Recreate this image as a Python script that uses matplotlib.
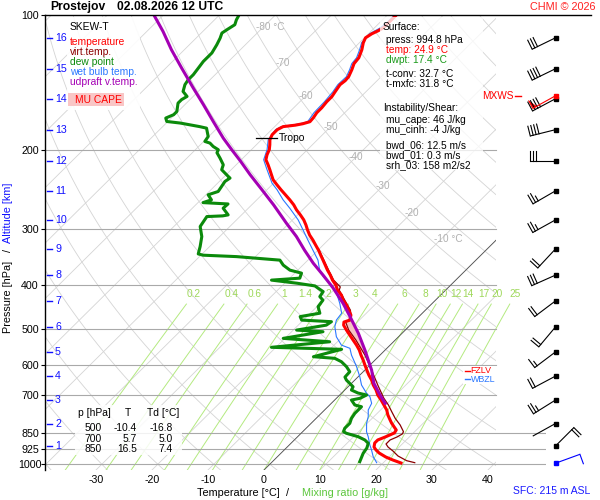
import numpy as np
import matplotlib
matplotlib.use('Agg')
import matplotlib.pyplot as plt
from matplotlib.patches import Rectangle, Polygon

plt.rcParams['font.family'] = ['Liberation Sans', 'DejaVu Sans']

# ---------------- data ----------------
temp_p = [993.6, 978.5, 963.6, 944.1, 929.7, 915.5, 896.8, 883.1, 869.6, 852.0, 839.0, 826.3,
          809.5, 797.1, 776.9, 757.4, 738.2, 719.6, 701.4, 683.7, 666.4, 649.6, 633.1, 617.2,
          601.5, 586.4, 571.5, 557.1, 543.0, 529.3, 515.9, 502.8, 490.2, 482.5, 477.7, 465.7,
          453.9, 442.4, 431.3, 420.3, 409.7, 399.3, 389.2, 379.3, 369.8, 360.4, 351.3, 342.5,
          333.8, 325.4, 317.1, 309.0, 301.0, 293.3, 285.8, 278.6, 271.5, 264.6, 257.9, 251.3,
          244.9, 238.8, 232.7, 226.8, 221.0, 215.5, 210.0, 204.7, 199.5, 194.5, 189.5, 184.7,
          180.0, 177.2, 175.9, 174.6, 172.8, 169.3, 165.0, 160.9, 156.0, 152.0, 148.2, 142.9,
          140.0, 137.2, 132.3, 128.3, 124.5, 119.5, 115.3, 112.4, 110.1, 108.4, 106.8, 104.1, 100.0]
temp_t = [23.2, 21.2, 19.4, 17.5, 16.4, 15.5, 14.9, 14.9, 15.7, 16.6, 16.4, 15.5,
          14.3, 13.5, 12.2, 11.1, 9.7, 8.3, 6.8, 5.6, 4.2, 3.0, 1.6, 0.35,
          -0.9, -2.1, -3.4, -4.6, -6.0, -7.5, -9.0, -10.5, -11.9, -12.4, -11.7, -12.4,
          -13.7, -15.0, -16.5, -17.7, -19.3, -20.5, -22.0, -23.3, -24.7, -26.0, -27.3, -28.6,
          -29.9, -31.3, -32.7, -34.2, -35.5, -36.7, -38.0, -39.5, -41.1, -42.5, -44.1, -45.8,
          -47.5, -49.1, -50.7, -51.9, -53.1, -54.3, -55.6, -56.3, -56.8, -57.6, -58.5, -59.0,
          -59.0, -58.5, -56.6, -55.5, -54.6, -54.7, -55.0, -55.0, -55.2, -55.2, -55.5, -55.9,
          -55.7, -55.8, -56.5, -57.2, -57.4, -58.3, -59.3, -59.8, -59.4, -58.8, -58.4, -58.4, -58.4]

virt_p = [992.1, 982.0, 958.6, 934.4, 915.5, 901.4, 883.1, 869.6, 856.3, 846.4, 817.8, 790.2,
          764.0, 738.2, 712.2, 666.4, 617.2, 571.5, 529.3, 502.8, 482.5, 477.7, 453.9, 431.3,
          409.7, 402.9, 389.2, 369.8, 333.8]
virt_t = [25.6, 23.8, 21.4, 19.6, 18.0, 17.1, 17.1, 17.8, 18.2, 18.0, 16.2, 14.1,
          12.3, 10.5, 8.4, 5.0, 1.2, -2.7, -7.0, -10.1, -12.1, -11.4, -13.4, -16.2,
          -19.0, -19.4, -21.8, -24.5, -29.8]

dew_p = [987.0, 945.5, 920.1, 898.2, 883.1, 868.3, 853.4, 846.4, 831.8, 810.7, 790.2, 770.2,
         757.4, 744.7, 738.2, 719.6, 713.3, 701.4, 694.2, 683.7, 672.3, 649.6, 639.7, 622.5,
         606.5, 591.3, 581.1, 576.3, 554.9, 549.2, 533.8, 524.6, 507.0, 502.8, 490.2, 481.6,
         477.7, 469.2, 461.1, 445.8, 431.3, 423.5, 412.8, 405.7, 400.9, 395.4, 389.2, 385.3,
         375.5, 369.8, 360.4, 351.3, 345.0, 342.5, 340.3, 327.6, 311.3, 295.7, 281.0, 280.0,
         278.6, 269.2, 263.4, 261.6, 257.9, 251.3, 247.1, 240.8, 234.7, 230.7, 228.8, 221.0,
         215.5, 208.2, 202.6, 199.5, 196.2, 192.8, 191.2, 186.4, 178.6, 177.2, 174.0, 172.6,
         169.6, 166.7, 164.0, 157.1, 154.3, 151.8, 148.0, 142.9, 139.3, 135.8, 131.2, 126.9,
         124.7, 121.5, 116.5, 112.6, 109.7, 107.8, 105.1, 102.5, 100.0]
dew_t = [15.6, 14.7, 14.4, 13.8, 12.6, 10.8, 8.1, 7.3, 6.9, 6.9, 6.3, 6.0,
         6.0, 6.0, 4.5, 3.0, 4.2, 4.8, 2.9, 1.2, 0.9, -1.5, -2.3, -2.4,
         -3.9, -5.7, -7.5, -11.6, -7.9, -20.8, -11.4, -20.3, -14.4, -19.4, -15.0, -14.7,
         -20.3, -21.2, -18.3, -19.8, -20.1, -21.3, -21.6, -23.1, -24.1, -27.8, -32.9, -28.2,
         -28.8, -31.4, -33.5, -35.0, -43.4, -49.6, -50.7, -51.7, -53.2, -55.3, -55.9, -53.2,
         -52.4, -54.5, -54.4, -59.1, -58.1, -59.6, -58.4, -58.7, -59.0, -58.7, -59.3, -61.7,
         -62.3, -64.1, -65.6, -65.9, -67.4, -68.6, -69.8, -70.1, -71.9, -73.4, -77.5, -80.2,
         -81.0, -80.2, -80.2, -81.5, -81.5, -81.1, -82.7, -83.6, -83.9, -83.9, -84.2, -84.5,
         -84.5, -84.5, -85.1, -85.7, -86.3, -86.0, -85.5, -86.1, -86.5]

wetb_p = [992.1, 962.1, 929.7, 906.2, 868.3, 846.4, 810.7, 783.7, 757.4, 731.8, 707.5, 695.3,
          666.4, 638.7, 606.5, 571.5, 552.0, 543.0, 520.3, 494.0, 477.7, 461.1, 438.6, 416.3,
          396.8, 382.1, 369.8, 351.3, 333.8, 317.1, 301.0, 285.8, 269.2, 257.9, 244.9, 236.7,
          221.0, 210.0, 199.5, 189.5, 180.0, 177.2, 174.6, 172.8, 165.0, 156.0, 148.2, 142.9,
          137.2, 132.3, 128.3, 124.5, 119.5, 115.3, 110.1, 107.0, 104.1, 100.0]
wetb_t = [18.8, 17.1, 15.6, 14.4, 12.6, 11.4, 9.9, 9.0, 7.8, 7.2, 5.7, 4.5,
          2.1, 0.3, -2.1, -5.1, -6.6, -8.7, -11.1, -13.2, -14.1, -14.4, -16.5, -18.9,
          -21.8, -24.3, -26.1, -28.2, -30.9, -33.6, -36.3, -39.0, -42.6, -45.3, -48.2, -50.3,
          -53.6, -56.0, -57.2, -58.8, -59.3, -58.8, -56.0, -55.0, -55.5, -55.6, -55.9, -56.3,
          -56.2, -56.9, -57.6, -57.8, -58.7, -59.6, -59.8, -59.0, -58.7, -58.7]

parc_p = [731.8, 701.4, 660.6, 617.2, 557.1, 511.1, 469.2, 438.6, 405.0, 379.3, 356.8, 333.8,
          311.3, 290.7, 264.6, 244.9, 226.8, 211.1, 199.5, 188.0, 172.6, 158.3, 145.4, 131.2,
          119.5, 108.8, 100.0]
parc_t = [9.6, 7.2, 4.0, 1.2, -3.6, -7.8, -12.3, -15.9, -20.5, -24.6, -28.5, -32.4,
          -36.3, -40.5, -46.1, -50.9, -55.7, -60.0, -63.5, -67.1, -71.9, -76.7, -81.5, -87.2,
          -92.3, -97.1, -101.7]

alt_km = [1, 2, 3, 4, 5, 6, 7, 8, 9, 10, 11, 12, 13, 14, 15, 16]
alt_p = [910.7, 811.6, 719.6, 636.5, 562.3, 494.7, 432.9, 379.3, 331.7, 285.8, 246.3, 211.1,
         180.0, 153.6, 131.7, 112.4]
wind_dir = [45, 241, 238, 242, 233, 220, 233, 246, 223, 241, 240, 270, 256, 242, 244, 244]
wind_spd = [20, 3, 25, 20, 15, 20, 20, 30, 20, 25, 25, 30, 40, 40, 40, 30]
sfc_p = 994.8
sfc_dir = 70
sfc_spd = 10
mxws_p = 151.3
mxws_dir = 241
mxws_spd = 50
tropo_p = 187.7
fzlv_p = 620.3
wbzl_p = 646.2

p_ticks = [100, 200, 300, 400, 500, 600, 700, 850, 925, 1000]
t_ticks = [-30, -20, -10, 0, 10, 20, 30, 40]
mr_values = [0.2, 0.4, 0.6, 1, 1.4, 2, 3, 4, 6, 8, 10, 12, 14, 17, 20, 25]
mr_labels = ['0.2', '0.4', '0.6', '1', '1.4', '2', '3', '4', '6', '8', '10', '12', '14', '17', '20', '25']
iso_lab_t = [-80, -70, -60, -50, -40, -30, -20, -10]
iso_lab_p = [106.2, 127.8, 151.3, 177.2, 206.9, 240.0, 275.7, 315.0]

tab_p = [500, 700, 850]
tab_t = [-10.4, 5.7, 16.5]
tab_td = [-16.8, 5.0, 7.4]

sfc_lines = [('Surface:', 'black', 0), ('press: 994.8 hPa', 'black', 1), ('temp: 24.9 °C', '#ff0000', 1),
             ('dwpt: 17.4 °C', '#1a9a1a', 1), ('t-conv: 32.7 °C', 'black', 1), ('t-mxfc: 31.8 °C', 'black', 1),
             ('Instability/Shear:', 'black', 0), ('mu_cape: 46 J/kg', 'black', 1), ('mu_cinh: -4 J/kg', 'black', 1),
             ('bwd_06: 12.5 m/s', 'black', 1), ('bwd_01: 0.3 m/s', 'black', 1), ('srh_03: 158 m2/s2', 'black', 1)]
sfc_line_y = [27, 40, 50, 60, 74, 84, 108, 120, 130, 145, 155, 165]

# ---------------- geometry ----------------
P_BOT = 1030.0
SKEW = 81.0
PX_PER_DEG = 5.6
X0PX = 264.0
MR_SHIFT = -1.0   # horizontal placement of the mixing-ratio grid


def skx(t, p):
    return np.asarray(t, float) + SKEW * np.log10(P_BOT / np.asarray(p, float))


XL = (45 - X0PX) / PX_PER_DEG
XR = (546 - X0PX) / PX_PER_DEG
X496 = (496 - X0PX) / PX_PER_DEG

RED = '#ff0000'
DRED = '#8b0000'
GREEN = '#0b8a0b'
WB = '#2b78ff'
PURP = '#a400b4'
GRID = '#d4d4d4'
PLINE = '#a9a9a9'
MRC = '#b4ea80'
MRT = '#9ed85a'

fig = plt.figure(figsize=(6, 5), dpi=100)
fig.patch.set_facecolor('white')
ax = fig.add_axes([45 / 600, 30 / 500, 501 / 600, 455 / 500])
ax.set_yscale('log')
ax.set_ylim(P_BOT, 100)
ax.set_xlim(XL, XR)
for s in ['top', 'right', 'bottom']:
    ax.spines[s].set_visible(False)
ax.spines['left'].set_linewidth(1.0)

clip = Rectangle((0, 0), (496 - 45) / 501, 1, transform=ax.transAxes, facecolor='none', edgecolor='none')

pp = np.logspace(np.log10(P_BOT), 2, 120)
for t0 in range(-130, 51, 10):
    ln, = ax.plot(skx(np.full_like(pp, t0), pp), pp, color=GRID, lw=0.6, zorder=1)
    ln.set_clip_path(clip)
ln, = ax.plot(skx(np.zeros_like(pp), pp), pp, color='#505050', lw=0.6, zorder=1.6)
ln.set_clip_path(clip)

for th in np.arange(-40, 190, 10):
    theta = th + 273.15
    tt = theta * (pp / 1000.0) ** 0.2857 - 273.15
    ln, = ax.plot(skx(tt, pp), pp, color=GRID, lw=0.6, zorder=1)
    ln.set_clip_path(clip)

pm = np.logspace(np.log10(P_BOT), np.log10(440), 60)
for w, lab in zip(mr_values, mr_labels):
    e = w * pm / (622.0 + w)
    lg = np.log(e / 6.112)
    td = 243.5 * lg / (17.67 - lg)
    ax.plot(skx(td, pm) + MR_SHIFT, pm, color=MRC, lw=0.7, zorder=1.2)
    pl = 418.0
    e2 = w * pl / (622.0 + w)
    lg2 = np.log(e2 / 6.112)
    td2 = 243.5 * lg2 / (17.67 - lg2)
    ax.text(skx(td2, pl) + MR_SHIFT, pl, lab, color=MRT, fontsize=7.3, ha='center', va='center', zorder=6)

for p in p_ticks[1:]:
    xe = XR if p >= 850 else X496
    ax.plot([XL, xe], [p, p], color=PLINE, lw=0.8, zorder=1.5)

for t, p in zip(iso_lab_t, iso_lab_p):
    lab = '%d °C' % t if t in (-80, -10) else '%d' % t
    ax.text(skx(t, p) - 1.3, p, lab, color='#b0b0b0', fontsize=7.2, ha='left', va='center', zorder=1.8)

# CAPE area
pg = np.logspace(np.log10(625), np.log10(460), 80)
tpar = np.interp(pg, parc_p[::-1], parc_t[::-1])
tenv = np.interp(pg, virt_p[::-1], virt_t[::-1])
ax.fill_betweenx(pg, skx(tenv, pg), skx(tpar, pg), where=tpar > tenv, color='#f6c4c4', lw=0, zorder=2.5)

ax.plot(skx(virt_t, virt_p), virt_p, color=DRED, lw=0.9, zorder=3)
ax.plot(skx(wetb_t, wetb_p), wetb_p, color=WB, lw=0.8, zorder=3.2)
ax.plot(skx(temp_t, temp_p), temp_p, color=RED, lw=2.2, zorder=4)
ax.plot(skx(dew_t, dew_p), dew_p, color=GREEN, lw=2.2, zorder=4)
ax.plot(skx(parc_t, parc_p), parc_p, color=PURP, lw=2.2, zorder=4.5)

# tropopause
ax.plot([-1.43, 2.32], [tropo_p, tropo_p], color='black', lw=0.9, zorder=5)
ax.text(2.7, tropo_p, 'Tropo', fontsize=7.5, va='center', ha='left', zorder=5)

ax.set_yticks(p_ticks)
ax.set_yticklabels([str(p) for p in p_ticks])
ax.yaxis.set_minor_locator(matplotlib.ticker.NullLocator())
ax.tick_params(axis='y', length=3, width=0.8, pad=7.8, labelsize=7.7)
for lb in ax.get_yticklabels():
    lb.set_ha('center')
ax.set_xticks(t_ticks)
ax.set_xticklabels([str(t) for t in t_ticks])
ax.tick_params(axis='x', length=0, pad=3.5, labelsize=7.7)

# ---------------- overlay in pixel coordinates ----------------
ov = fig.add_axes([0, 0, 1, 1], zorder=10)
ov.set_xlim(0, 600)
ov.set_ylim(500, 0)
ov.axis('off')
ov.patch.set_visible(False)


def ypix(p):
    return 500 - ax.transData.transform((0, p))[1]


ov.plot([45, 591], [15, 15], color='black', lw=1.0)

ov.text(50, 7, 'Prostejov', fontsize=8.7, weight='bold', va='center', ha='left')
ov.text(117, 7, '02.08.2026 12 UTC', fontsize=8.7, weight='bold', va='center', ha='left')
ov.text(595, 7, 'CHMI © 2026', fontsize=7.8, color='#ff2020', va='center', ha='right')

# legend
ov.add_patch(Rectangle((67, 17), 73, 93, facecolor='white', edgecolor='none', alpha=0.9))
leg = [('SKEW-T', 'black', 27), ('temperature', RED, 42), ('virt.temp.', DRED, 52),
       ('dew point', GREEN, 62), ('wet bulb temp.', WB, 72), ('udpraft v.temp.', PURP, 82)]
for s, c, y in leg:
    ov.text(70, y, s, color=c, fontsize=7.4, va='center', ha='left')
ov.add_patch(Rectangle((68, 93), 56, 13, facecolor='#f9c6c6', edgecolor='none'))
ov.text(75, 100, 'MU CAPE', color=RED, fontsize=7.4, va='center', ha='left')

# surface info box
ov.add_patch(Rectangle((380, 17), 103, 153, facecolor='white', edgecolor='none', alpha=0.78))
for (s, c, ind), y in zip(sfc_lines, sfc_line_y):
    ov.text(383 + 3 * ind, y, s, color=c, fontsize=7.3, va='center', ha='left')

# table box
ov.add_patch(Rectangle((75, 405), 107, 50, facecolor='white', edgecolor='none', alpha=0.85))
ov.text(78, 413, 'p [hPa]', fontsize=7.4, va='center', ha='left')
ov.text(128, 413, 'T', fontsize=7.4, va='center', ha='center')
ov.text(147, 413, 'Td [°C]', fontsize=7.4, va='center', ha='left')
for i, (p, t, td) in enumerate(zip(tab_p, tab_t, tab_td)):
    y = 428 + 10.5 * i
    ov.text(102, y, str(p), fontsize=7.4, va='center', ha='right')
    ov.text(137, y, '%.1f' % t, fontsize=7.4, va='center', ha='right')
    ov.text(173, y, '%.1f' % td, fontsize=7.4, va='center', ha='right')

# altitude ticks
for k, p in zip(alt_km, alt_p):
    y = ypix(p)
    ov.plot([47, 52], [y, y], color='#1010ff', lw=1.0)
    ov.text(55, y, str(k), color='#1010ff', fontsize=7.7, va='center', ha='left')

# axis titles
ov.text(8, 296.7, 'Pressure [hPa]', rotation=90, fontsize=7.8, ha='center', va='center')
ov.text(8, 250, '/', rotation=90, fontsize=7.8, ha='center', va='center')
ov.text(8, 212.5, 'Altitude [km]', rotation=90, fontsize=7.8, ha='center', va='center', color='#1010ff')
ov.text(196.7, 493, 'Temperature [°C]', fontsize=7.8, ha='left', va='center')
ov.text(287, 493, '/', fontsize=7.8, ha='center', va='center')
ov.text(301.7, 493, 'Mixing ratio [g/kg]', fontsize=7.8, ha='left', va='center', color='#5cc63c')
ov.text(590, 491, 'SFC: 215 m ASL', fontsize=7.5, ha='right', va='center', color='#1a1aff')

# FZLV / WBZL
yf = ypix(fzlv_p)
yw = ypix(wbzl_p)
ov.add_patch(Rectangle((463, yf - 5), 42, yw - yf + 10, facecolor='white', edgecolor='none'))
ov.plot([465, 470], [yf, yf], color=RED, lw=1.0)
ov.text(470.5, yf - 0.5, 'FZLV', color=RED, fontsize=6.4, va='center', ha='left')
ov.plot([465, 470], [yw, yw], color=WB, lw=1.0)
ov.text(470.5, yw + 0.5, 'WBZL', color=WB, fontsize=6.4, va='center', ha='left')

# MXWS label
ym = ypix(mxws_p)
ov.text(482.5, ym, 'MXWS', color=RED, fontsize=7.3, va='center', ha='left')
ov.plot([515, 521], [ym, ym], color=RED, lw=1.0)


def barb(x0, y0, d, spd, col):
    r = np.deg2rad(d)
    ux, uy = np.sin(r), -np.cos(r)
    fx, fy = -uy, ux
    L = 26.0
    tx, ty = x0 + L * ux, y0 + L * uy
    ov.plot([x0, tx], [y0, ty], color=col, lw=0.8, solid_capstyle='butt')
    n50 = int(spd // 50)
    rem = spd - 50 * n50
    n10 = int(rem // 10)
    rem -= 10 * n10
    half = rem >= 5
    pos = 0.0
    for _ in range(n50):
        bx, by = tx - pos * ux, ty - pos * uy
        ov.add_patch(Polygon([[bx, by], [bx + 9 * fx, by + 9 * fy], [bx - 4 * ux, by - 4 * uy]],
                             closed=True, facecolor=col, edgecolor=col, lw=0.5))
        pos += 5
    for _ in range(n10):
        bx, by = tx - pos * ux, ty - pos * uy
        ov.plot([bx, bx + 10 * fx], [by, by + 10 * fy], color=col, lw=0.8)
        pos += 3
    if half:
        if pos == 0:
            pos = 3
        bx, by = tx - pos * ux, ty - pos * uy
        ov.plot([bx, bx + 5.5 * fx], [by, by + 5.5 * fy], color=col, lw=0.8)
    ov.plot([x0], [y0], marker='s', ms=2.6, color=col, mec=col, lw=0)


XB = 555.5
for p, d, s in zip(alt_p, wind_dir, wind_spd):
    barb(XB, ypix(p), d, s, 'black')
barb(XB, ypix(mxws_p), mxws_dir, mxws_spd, RED)
barb(XB, ypix(sfc_p), sfc_dir, sfc_spd, '#0000ff')

fig.savefig('out.png', dpi=100)
